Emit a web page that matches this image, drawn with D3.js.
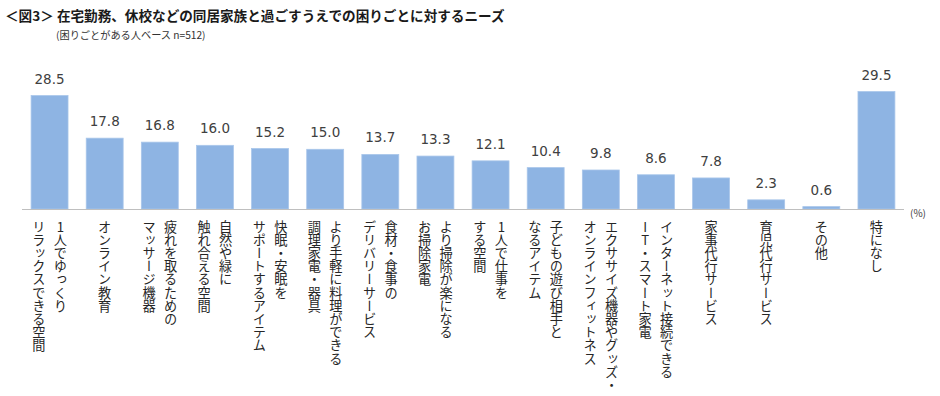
<!DOCTYPE html>
<html><head><meta charset="utf-8">
<script src="https://cdn.jsdelivr.net/npm/d3@7"></script>
<style>
body{margin:0;background:#fff;}
svg{display:block;}
.vt{writing-mode:vertical-rl;text-orientation:upright;}
</style></head><body>
<svg id="c" width="940" height="396"></svg>
<script>
const categories = [
  ["1人でゆっくり","リラックスできる空間"],
  ["オンライン教育"],
  ["疲れを取るための","マッサージ機器"],
  ["自然や緑に","触れ合える空間"],
  ["快眠・安眠を","サポートするアイテム"],
  ["より手軽に料理ができる","調理家電・器具"],
  ["食材・食事の","デリバリーサービス"],
  ["より掃除が楽になる","お掃除家電"],
  ["1人で仕事を","する空間"],
  ["子どもの遊び相手と","なるアイテム"],
  ["エクササイズ機器やグッズ・","オンラインフィットネス"],
  ["インターネット接続できる","IT・スマート家電"],
  ["家事代行サービス"],
  ["育児代行サービス"],
  ["その他"],
  ["特になし"]
];
const values = [28.5,17.8,16.8,16.0,15.2,15.0,13.7,13.3,12.1,10.4,9.8,8.6,7.8,2.3,0.6,29.5];
const title = "＜図3＞ 在宅勤務、休校などの同居家族と過ごすうえでの困りごとに対するニーズ";
const subtitle = "(困りごとがある人ベース n=512)";
const unit = "(%)";

const svg = d3.select("#c");
const jp = "'Noto Sans CJK JP','Noto Sans',sans-serif";
const idx = values.map((d,i)=>i);
const x = d3.scaleBand().domain(idx).range([22,904]).paddingInner(0.33).paddingOuter(0.165);
const y = d3.scaleLinear().domain([0,30]).range([209,89.6]);

svg.append("text").attr("x",5).attr("y",21).attr("font-family",jp).attr("font-size",13.6)
  .attr("font-weight","bold").attr("fill","#1a1a1a").text(title);
svg.append("text").attr("x",56).attr("y",39).attr("font-family",jp).attr("font-size",10.2)
  .attr("fill","#333").text(subtitle);

svg.selectAll("rect.bar").data(values).join("rect").attr("class","bar")
  .attr("x",(d,i)=>x(i)).attr("width",x.bandwidth())
  .attr("y",d=>y(d)).attr("height",d=>y(0)-y(d))
  .attr("fill","#8EB4E3").attr("stroke","#a9c6ea").attr("stroke-width",0.8);

svg.append("line").attr("x1",22).attr("x2",904).attr("y1",y(0)+0.5).attr("y2",y(0)+0.5)
  .attr("stroke","#bfbfbf").attr("stroke-width",1);

svg.selectAll("text.val").data(values).join("text").attr("class","val")
  .attr("x",(d,i)=>x(i)+x.bandwidth()/2).attr("y",d=>y(d)-12)
  .attr("text-anchor","middle").attr("font-family","'DejaVu Sans',sans-serif")
  .attr("font-size",13.5).attr("fill","#404040").text(d=>d.toFixed(1));

const lineGap = 21.5;
categories.forEach((lines,i)=>{
  const cx = x(i)+x.bandwidth()/2;
  const n = lines.length;
  lines.forEach((t,j)=>{
    const off = ((n-1)/2 - j)*lineGap;
    svg.append("text").attr("class","vt")
      .attr("x",cx+off).attr("y",220)
      .attr("font-family",jp).attr("font-size",13.2).attr("fill","#262626")
      .text(t);
  });
});

svg.append("text").attr("x",910).attr("y",217).attr("font-family",jp)
  .attr("font-size",10).attr("fill","#404040").text(unit);
</script></body></html>
